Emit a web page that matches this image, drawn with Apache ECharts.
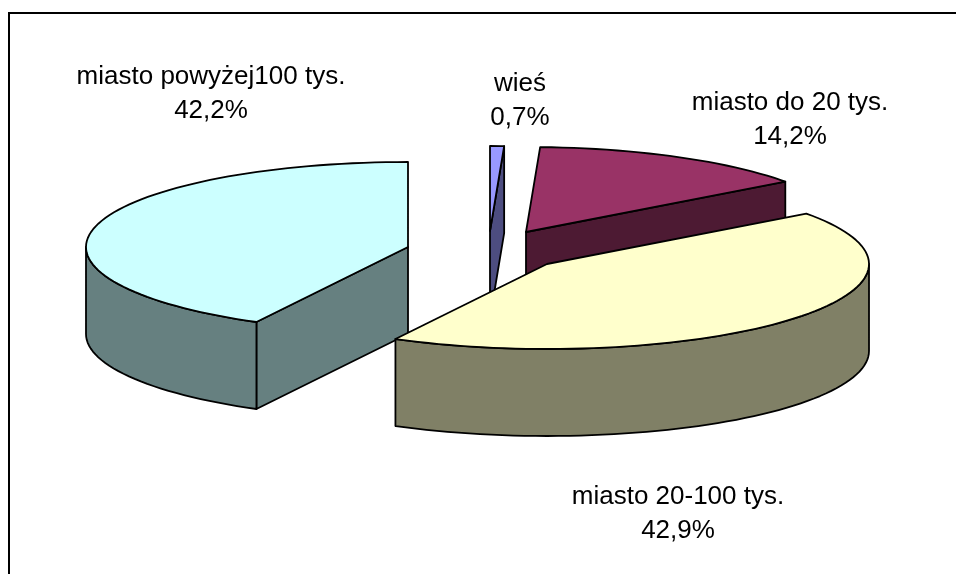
<!DOCTYPE html>
<html>
<head>
<meta charset="utf-8">
<style>html,body{margin:0;padding:0;background:#fff}#chart{width:956px;height:574px}</style>
<script src="https://cdn.jsdelivr.net/npm/echarts@6/dist/echarts.min.js"></script>
</head>
<body>
<div id="chart"></div>
<script>
// Share of respondents by place of residence, as an exploded 3D pie
const categories = ['wieś', 'miasto do 20 tys.', 'miasto 20-100 tys.', 'miasto powyżej100 tys.'];
const shares = [0.7, 14.2, 42.9, 42.2];

// Presentation settings, one entry per slice
const topColors = ['#9999FF', '#993366', '#FFFFCC', '#CCFFFF'];
const wallColors = ['#4D4D80', '#4D1A33', '#808066', '#668080'];
const sliceCentres = [[490, 231], [526, 232], [547, 264], [408, 247]];
const labelCentres = [[520, 101], [790, 120], [678, 514], [211, 94]];
const paintOrder = [1, 2, 4, 3];

const RX = 322, RY = 85, DEPTH = 87;
const total = shares.reduce((a, b) => a + b, 0);
const formatShare = v => v.toFixed(1).replace('.', ',') + '%';

function rim(c, deg, drop) {
  const r = deg * Math.PI / 180;
  return [c[0] + RX * Math.sin(r), c[1] - RY * Math.cos(r) + (drop || 0)];
}

function arcPoints(c, from, to, drop) {
  const pts = [];
  for (let d = from; d < to; d += 2) pts.push(rim(c, d, drop));
  pts.push(rim(c, to, drop));
  return pts;
}

function renderSlice(params, api) {
  const i = params.dataIndex;
  const before = shares.slice(0, i).reduce((a, b) => a + b, 0);
  const start = before / total * 360;
  const end = (before + api.value(0)) / total * 360;
  const c = sliceCentres[i];
  const z2 = paintOrder[i];
  const edge = { stroke: '#000', lineWidth: 1.8, lineJoin: 'round' };
  const wall = { fill: wallColors[i], ...edge };
  const children = [];
  const face = pts => children.push({ type: 'polygon', z2, shape: { points: pts }, style: wall });

  // Cut faces turned towards the viewer
  if (end > 0 && end < 180) {
    face([c, rim(c, end), rim(c, end, DEPTH), [c[0], c[1] + DEPTH]]);
  }
  if (start > 180 && start < 360) {
    face([c, rim(c, start), rim(c, start, DEPTH), [c[0], c[1] + DEPTH]]);
  }
  // Outer wall along the front half of the rim
  const from = Math.max(start, 90), to = Math.min(end, 270);
  if (to > from) {
    face(arcPoints(c, from, to, 0).concat(arcPoints(c, from, to, DEPTH).reverse()));
  }
  // Top surface
  children.push({
    type: 'polygon', z2,
    shape: { points: [c].concat(arcPoints(c, start, end, 0)) },
    style: { fill: topColors[i], ...edge }
  });
  // Category name and share above the slices
  children.push({
    type: 'text', z2: 10,
    x: labelCentres[i][0], y: labelCentres[i][1],
    style: {
      text: categories[i] + '\n' + formatShare(api.value(0)),
      fill: '#000',
      font: '26px "Liberation Sans", Arial, sans-serif',
      lineHeight: 34,
      align: 'center',
      verticalAlign: 'middle'
    }
  });
  return { type: 'group', children };
}

const chart = echarts.init(document.getElementById('chart'), null, { renderer: 'canvas' });
chart.setOption({
  animation: false,
  backgroundColor: '#fff',
  graphic: [{
    type: 'polyline',
    shape: { points: [[9, 574], [9, 13], [956, 13]] },
    style: { stroke: '#000', lineWidth: 2, fill: null }
  }],
  series: [{
    type: 'custom',
    coordinateSystem: 'none',
    renderItem: renderSlice,
    data: shares.map((v, i) => ({ name: categories[i], value: [v] }))
  }]
});
</script>
</body>
</html>
